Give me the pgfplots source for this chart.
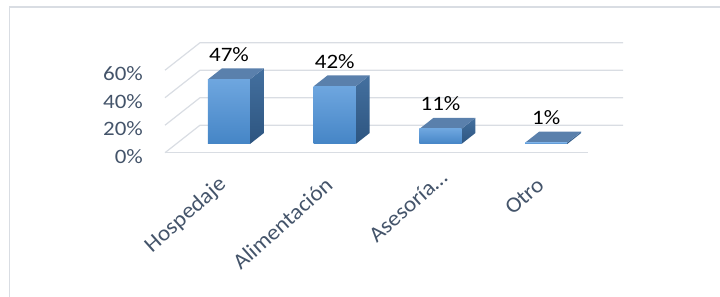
\documentclass[border=0pt]{standalone}
\usepackage{pgfplots}
\pgfplotsset{compat=1.18}
\usepackage{fontspec}
\setmainfont{Carlito}[FakeStretch=1.12]
\newfontfamily\rotfont{Carlito}[FakeStretch=1.06]
\definecolor{lab}{HTML}{44546A}
\definecolor{gridc}{HTML}{D9DDE3}
\definecolor{frontT}{HTML}{6EA6DF}
\definecolor{frontB}{HTML}{4585C6}
\definecolor{sideT}{HTML}{44709F}
\definecolor{sideB}{HTML}{2D5580}
\definecolor{topc}{HTML}{5A80AC}
\begin{document}
\begin{tikzpicture}
\path[use as bounding box] (0,0) rectangle (720bp,297bp);
\draw[gridc, line width=1.2bp] (9.5bp,0) -- (9.5bp,290bp) -- (720bp,290bp);
\begin{axis}[at={(165bp,144.3bp)}, anchor=south west, scale only axis,
  width=458bp, height=110bp, xmin=-0.5, xmax=3.831, ymin=0, ymax=80,
  clip=false, axis line style={draw=none}, tick style={draw=none},
  xtick={0,1,2,3},
  xticklabels={Hospedaje,Alimentación,Asesoría…\hspace*{-12bp},Otro},
  ytick={0,20,40,60}, yticklabels={0\%,20\%,40\%,60\%},
  yticklabel style={anchor=east, inner sep=0pt, xshift=-22bp, yshift=-3.5bp, text=lab, font=\fontsize{20.5bp}{24bp}\selectfont},
  xticklabel style={xshift=5.5bp, yshift=-29bp, rotate=41.8, anchor=east, inner sep=0pt, text=lab, font=\rotfont\fontsize{22bp}{26bp}\selectfont}]
% gridlines
\addplot[gridc, line width=1.2bp, mark=none] coordinates {(-0.5,0) (3.5,0)};
\addplot[gridc, line width=1.2bp, mark=none] coordinates {(-0.5,0) (-0.169,20) (3.831,20)};
\addplot[gridc, line width=1.2bp, mark=none] coordinates {(-0.5,20) (-0.169,40) (3.831,40)};
\addplot[gridc, line width=1.2bp, mark=none] coordinates {(-0.5,40) (-0.169,60) (3.831,60)};
\addplot[gridc, line width=1.2bp, mark=none] coordinates {(-0.5,60) (-0.169,80) (3.831,80)};
% bar 1: 47
\addplot[draw=none, mark=none, top color=sideT, bottom color=sideB] coordinates {(0.3036,6.33) (0.4356,14.33) (0.4356,61.33) (0.3036,53.33)} -- cycle;
\addplot[draw=none, mark=none, fill=topc] coordinates {(-0.0936,53.33) (0.3036,53.33) (0.4356,61.33) (0.0384,61.33)} -- cycle;
\addplot[draw=none, mark=none, top color=frontT, bottom color=frontB] coordinates {(-0.0936,6.33) (0.3036,6.33) (0.3036,53.33) (-0.0936,53.33)} -- cycle;
% bar 2: 42
\addplot[draw=none, mark=none, top color=sideT, bottom color=sideB] coordinates {(1.3036,6.33) (1.4356,14.33) (1.4356,56.33) (1.3036,48.33)} -- cycle;
\addplot[draw=none, mark=none, fill=topc] coordinates {(0.9064,48.33) (1.3036,48.33) (1.4356,56.33) (1.0384,56.33)} -- cycle;
\addplot[draw=none, mark=none, top color=frontT, bottom color=frontB] coordinates {(0.9064,6.33) (1.3036,6.33) (1.3036,48.33) (0.9064,48.33)} -- cycle;
% bar 3: 11
\addplot[draw=none, mark=none, top color=sideT, bottom color=sideB] coordinates {(2.3036,6.33) (2.4356,14.33) (2.4356,25.33) (2.3036,17.33)} -- cycle;
\addplot[draw=none, mark=none, fill=topc] coordinates {(1.9064,17.33) (2.3036,17.33) (2.4356,25.33) (2.0384,25.33)} -- cycle;
\addplot[draw=none, mark=none, top color=frontT, bottom color=frontB] coordinates {(1.9064,6.33) (2.3036,6.33) (2.3036,17.33) (1.9064,17.33)} -- cycle;
% bar 4: 1
\addplot[draw=none, mark=none, top color=sideT, bottom color=sideB] coordinates {(3.3036,6.33) (3.4356,14.33) (3.4356,15.33) (3.3036,7.33)} -- cycle;
\addplot[draw=none, mark=none, fill=topc] coordinates {(2.9064,7.33) (3.3036,7.33) (3.4356,15.33) (3.0384,15.33)} -- cycle;
\addplot[draw=none, mark=none, top color=frontT, bottom color=frontB] coordinates {(2.9064,6.33) (3.3036,6.33) (3.3036,7.33) (2.9064,7.33)} -- cycle;
% data labels
\addplot[draw=none, mark=none, nodes near coords, point meta=explicit symbolic,
  nodes near coords style={anchor=center, yshift=25bp, inner sep=0pt, text=black, font=\fontsize{20.5bp}{24bp}\selectfont}]
  coordinates {(0.105,53.33)[47\%] (1.105,48.33)[42\%] (2.105,17.33)[11\%] (3.105,7.33)[1\%]};
\end{axis}
\end{tikzpicture}
\end{document}
